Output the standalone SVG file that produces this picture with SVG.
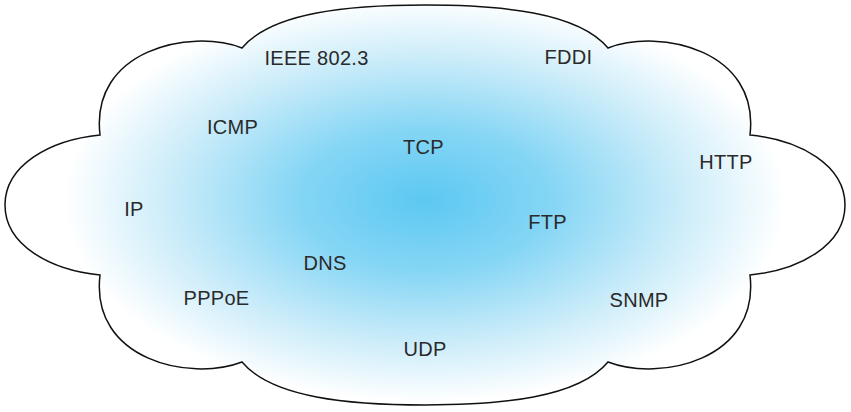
<svg xmlns="http://www.w3.org/2000/svg" width="851" height="412" viewBox="0 0 851 412">
  <defs>
    <radialGradient id="sky" gradientUnits="userSpaceOnUse" cx="0" cy="0" r="1" gradientTransform="translate(425 200) scale(430 240)">
      <stop offset="0" stop-color="#5cc8f2"/>
      <stop offset="0.3" stop-color="#86d6f5"/>
      <stop offset="0.58" stop-color="#c8ebf9"/>
      <stop offset="0.84" stop-color="#ffffff"/>
    </radialGradient>
  </defs>
  <style>
    .lbl { font-family: "Liberation Sans", Arial, sans-serif; font-size: 20px; fill: #2a2a2a; text-anchor: middle; letter-spacing: 0.3px; }
  </style>
  <rect width="851" height="412" fill="#ffffff"/>
  <g id="cloud">
    <path d="M425,5 C350,5 272,12 242,48 C190,28 90,50 100,135 C50,140 5,165 5,205 C5,245 50,270 100,275 C90,360 190,382 242,362 C272,398 350,405 425,405 C500,405 578,398 608,362 C660,382 760,360 750,275 C800,270 845,245 845,205 C845,165 800,140 750,135 C760,50 660,28 608,48 C578,12 500,5 425,5 Z" fill="url(#sky)" stroke="#111" stroke-width="1.5" stroke-linejoin="miter"/>
  </g>
  <g id="connectors"></g>
  <g id="n-ieee"><text class="lbl" x="316.5" y="65">IEEE 802.3</text></g>
  <g id="n-fddi"><text class="lbl" x="568.5" y="64">FDDI</text></g>
  <g id="n-icmp"><text class="lbl" x="232.5" y="134">ICMP</text></g>
  <g id="n-tcp"><text class="lbl" x="423.5" y="154">TCP</text></g>
  <g id="n-http"><text class="lbl" x="726" y="169">HTTP</text></g>
  <g id="n-ip"><text class="lbl" x="134" y="216">IP</text></g>
  <g id="n-ftp"><text class="lbl" x="547.5" y="229">FTP</text></g>
  <g id="n-dns"><text class="lbl" x="325" y="270">DNS</text></g>
  <g id="n-pppoe"><text class="lbl" x="216.5" y="305">PPPoE</text></g>
  <g id="n-snmp"><text class="lbl" x="639" y="307">SNMP</text></g>
  <g id="n-udp"><text class="lbl" x="425" y="356">UDP</text></g>
</svg>
